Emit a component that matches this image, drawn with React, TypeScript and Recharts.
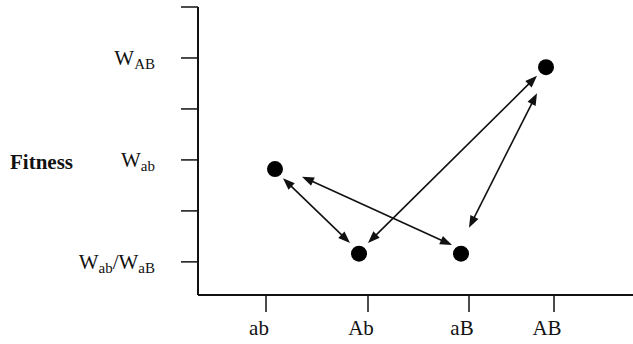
import React from 'react';
import { ScatterChart, Scatter, XAxis, YAxis, ReferenceLine } from 'recharts';

// genotypes along the x axis and where their tick marks sit
const genotypes = ['ab', 'Ab', 'aB', 'AB'];
const genotypeTicks = [68, 170, 271, 356];

// fitness of each genotype (dots)
const genotypeX = [77, 161, 263, 348];
const genotypeFitness = [1.82, 0.16, 0.16, 3.82];

// fitness axis ticks and the labels (main text + subscript parts)
const fitnessTicks = [0, 1, 2, 3, 4, 5];
const fitnessLabels: Record<number, Array<[string, string]>> = {
  0: [['W', 'ab'], ['/', ''], ['W', 'aB']],
  2: [['W', 'ab']],
  4: [['W', 'AB']],
};

// double-headed arrows between genotypes (from / to, in data units)
const arrowFromX = [85, 104, 170, 271];
const arrowFromY = [1.64, 1.67, 0.37, 0.67];
const arrowToX = [152, 254, 339, 339];
const arrowToY = [0.37, 0.33, 3.65, 3.31];

const points = genotypes.map((g, i) => ({ name: g, x: genotypeX[i], y: genotypeFitness[i] }));
const arrows = arrowFromX.map((x, i) => [
  { x, y: arrowFromY[i] },
  { x: arrowToX[i], y: arrowToY[i] },
]);

const FONT = '"Liberation Serif", "Times New Roman", serif';
const INK = '#111';

const head = (tx: number, ty: number, fx: number, fy: number) => {
  const dx = tx - fx;
  const dy = ty - fy;
  const len = Math.hypot(dx, dy) || 1;
  const ux = dx / len;
  const uy = dy / len;
  const bx = tx - ux * 12;
  const by = ty - uy * 12;
  const px = -uy * 4.5;
  const py = ux * 4.5;
  return `${tx},${ty} ${bx + px},${by + py} ${bx - px},${by - py}`;
};

const DoubleArrow = (props: any) => {
  const { x1, y1, x2, y2 } = props;
  const len = Math.hypot(x2 - x1, y2 - y1) || 1;
  const ux = (x2 - x1) / len;
  const uy = (y2 - y1) / len;
  return (
    <g>
      <line x1={x1 + ux * 8} y1={y1 + uy * 8} x2={x2 - ux * 8} y2={y2 - uy * 8} stroke={INK} strokeWidth={1.6} />
      <polygon points={head(x1, y1, x2, y2)} fill={INK} />
      <polygon points={head(x2, y2, x1, y1)} fill={INK} />
    </g>
  );
};

const FitnessTick = (props: any) => {
  const { x, y, payload } = props;
  const parts = fitnessLabels[payload.value];
  if (!parts) return null;
  return (
    <text x={x} y={y + 7} textAnchor="end" fontFamily={FONT} fontSize={21} fill={INK}>
      {parts.map(([main, sub], i) => {
        const prevSub = i > 0 && parts[i - 1][1] !== '';
        return (
          <React.Fragment key={i}>
            <tspan dy={prevSub ? -4 : 0}>{main}</tspan>
            {sub ? (
              <tspan fontSize={15} dy={4}>
                {sub}
              </tspan>
            ) : null}
          </React.Fragment>
        );
      })}
    </text>
  );
};

const GenotypeTick = (props: any) => {
  const { x, y, payload } = props;
  const i = genotypeTicks.indexOf(payload.value);
  return (
    <text x={x - 7} y={y + 21} textAnchor="middle" fontFamily={FONT} fontSize={21} fill={INK}>
      {genotypes[i]}
    </text>
  );
};

const Dot = (props: any) => <circle cx={props.cx} cy={props.cy} r={8} fill="#000" />;

export default function App() {
  return (
    <div style={{ position: 'absolute', left: 0, top: 0, width: 633, height: 344, background: '#fff' }}>
      <ScatterChart width={633} height={344} margin={{ top: 7, right: 0, bottom: 0, left: 0 }}>
        <XAxis
          type="number"
          dataKey="x"
          domain={[0, 435]}
          allowDataOverflow
          ticks={genotypeTicks}
          interval={0}
          height={49}
          tickSize={17}
          axisLine={{ stroke: INK, strokeWidth: 2 }}
          tickLine={{ stroke: INK, strokeWidth: 1.5 }}
          tick={<GenotypeTick />}
        />
        <YAxis
          type="number"
          dataKey="y"
          domain={[-0.65, 5]}
          allowDataOverflow
          ticks={fitnessTicks}
          interval={0}
          width={198}
          tickSize={17}
          tickMargin={26}
          axisLine={{ stroke: INK, strokeWidth: 2 }}
          tickLine={{ stroke: INK, strokeWidth: 1.5 }}
          tick={<FitnessTick />}
          label={{
            value: 'Fitness',
            content: (p: any) => (
              <text
                x={p.viewBox.x + 10}
                y={p.viewBox.y + p.viewBox.height / 2 + 18}
                fontFamily={FONT}
                fontWeight="bold"
                fontSize={21}
                fill={INK}
              >
                Fitness
              </text>
            ),
          }}
        />
        {arrows.map((seg, i) => (
          <ReferenceLine key={i} segment={seg} ifOverflow="visible" shape={<DoubleArrow />} />
        ))}
        <Scatter data={points} isAnimationActive={false} shape={<Dot />} />
      </ScatterChart>
    </div>
  );
}
